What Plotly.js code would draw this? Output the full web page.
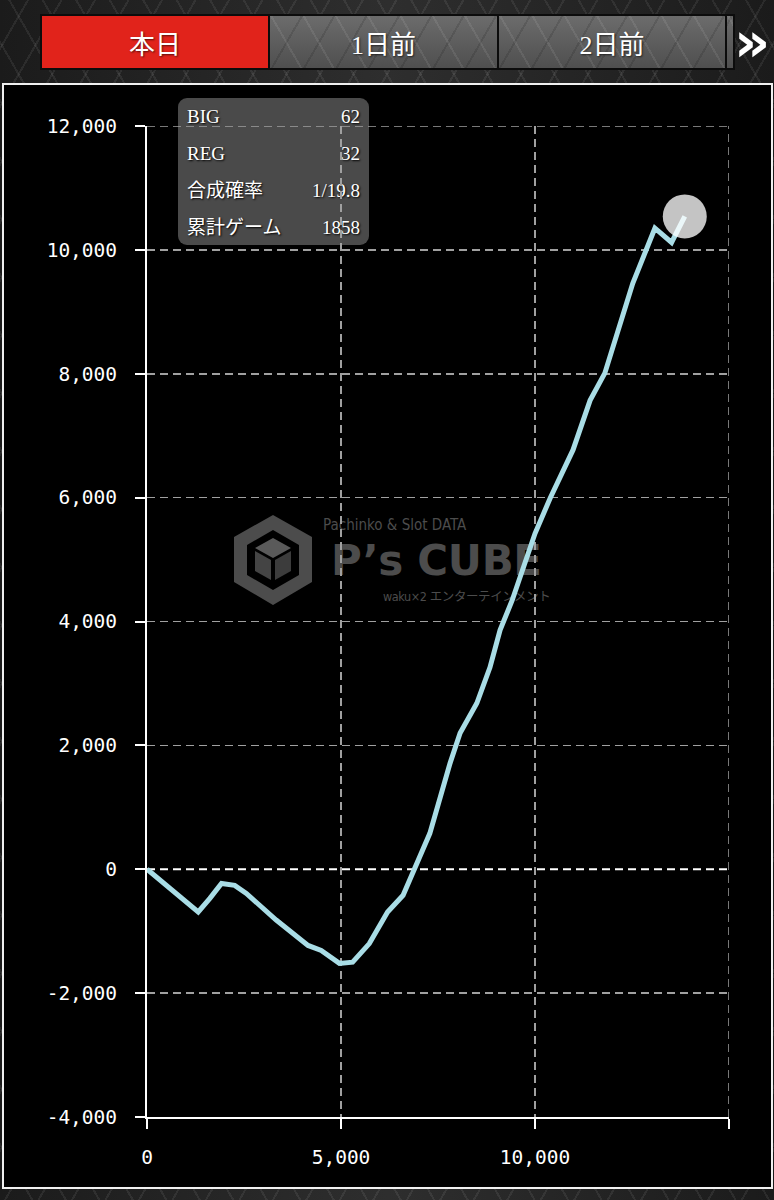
<!DOCTYPE html>
<html>
<head>
<meta charset="utf-8">
<script src="https://cdn.plot.ly/plotly-3.0.1.min.js"></script>
<style>
  html, body { margin:0; padding:0; width:774px; height:1200px; overflow:hidden; }
  body {
    position:relative;
    background-color:#232323;
    background-image:
      repeating-linear-gradient(60deg, transparent 0 27px, rgba(255,255,255,0.07) 27px 29px),
      repeating-linear-gradient(-60deg, transparent 0 27px, rgba(255,255,255,0.07) 27px 29px),
      linear-gradient(90deg, #1b1b1b, #2e2e2e 50%, #1b1b1b);
  }
  .tabs { position:absolute; left:40px; top:14px; width:695px; height:56px; background:#0c0c0c; }
  .tab {
    position:absolute; top:2px; height:52px; color:#fff;
    font-family:"Liberation Serif","Noto Sans CJK JP",serif; font-size:26px;
    display:flex; align-items:center; justify-content:center;
    text-shadow:1px 1px 2px rgba(0,0,0,0.6);
  }
  .red { left:2px; width:226px; background:#e1231b; }
  .gray {
    background-color:#5a5a5a;
    background-image:
      repeating-linear-gradient(60deg, transparent 0 26px, rgba(255,255,255,0.08) 26px 28px),
      repeating-linear-gradient(-60deg, transparent 0 26px, rgba(0,0,0,0.12) 26px 28px),
      linear-gradient(180deg, #6c6c6c, #4f4f4f);
  }
  .t1 { left:230px; width:227px; }
  .t2 { left:459px; width:226px; }
  .t3 { left:687px; width:6px; }
  .more { position:absolute; left:733px; top:14px; width:38px; height:56px; color:#fff;
    font-family:"DejaVu Sans"; font-weight:bold; font-size:56px; line-height:56px; text-align:center; }
  .panel { position:absolute; left:2px; top:83px; width:771px; height:1106px; box-sizing:border-box;
    border:2px solid #f0f0f0; background:#000; }
  .info { position:absolute; left:178px; top:98px; width:191px; height:147px; border-radius:9px;
    background:#4a4a4a; color:#fff; font-family:"Liberation Serif","Noto Sans CJK JP",serif; font-size:19px;
    text-shadow:1px 1px 2px #000; }
  .row { position:absolute; left:9px; right:9px; height:24px; line-height:24px; }
  .row span.v { position:absolute; right:0; }
  .wm { position:absolute; color:#4c4c4c; white-space:nowrap; line-height:1; }
  #chart { position:absolute; left:0; top:0; width:774px; height:1200px; }
</style>
</head>
<body>
<div class="tabs">
  <div class="tab red" id="tab0"></div>
  <div class="tab gray t1" id="tab1"></div>
  <div class="tab gray t2" id="tab2"></div>
  <div class="tab gray t3"></div>
</div>
<div class="more">»</div>
<div class="panel"></div>

<svg style="position:absolute;left:225px;top:508px" width="100" height="106" viewBox="0 0 100 106">
  <g fill="#4c4c4c">
    <path d="M48 7 L87 29 L87 74 L48 97 L9 74 L9 29 Z M48 22 L22 37 L22 67 L48 82 L74 67 L74 37 Z" fill-rule="evenodd"/>
    <path d="M48 30 L66 40 L48 50 L30 40 Z" fill="#5a5a5a"/>
    <path d="M30 43 L46 52 L46 72 L30 63 Z" fill="#444"/>
    <path d="M66 43 L50 52 L50 72 L66 63 Z" fill="#3c3c3c"/>
  </g>
</svg>
<div class="wm" style="left:323px;top:518px;font-family:'Liberation Sans Narrow','DejaVu Sans Condensed',sans-serif;font-size:15px;">Pachinko &amp; Slot DATA</div>
<div class="wm" style="left:331px;top:540px;font-family:'DejaVu Sans';font-weight:bold;font-size:42px;letter-spacing:-0.3px;">P’s CUBE</div>
<div class="wm" style="left:383px;top:591px;font-family:'DejaVu Sans Condensed','Noto Sans CJK JP',sans-serif;font-size:12.5px;letter-spacing:-0.4px;">waku×2 エンターテインメント</div>

<div class="info" id="info"></div>
<div id="chart"></div>

<script>
// ---- data ----
var tabLabels = ["本日", "1日前", "2日前"];
var infoLabels = ["BIG", "REG", "合成確率", "累計ゲーム"];
var infoValues = ["62", "32", "1/19.8", "1858"];

var games = [0, 1320, 1620, 1920, 2260, 2560, 3330, 4150, 4490, 4960, 5300, 5730, 6200, 6600,
             7290, 7810, 8070, 8500, 8840, 9100, 9410, 10000, 10390, 10980, 11420, 11800, 12520, 13090, 13520, 13860];
var diff  = [0, -690, -470, -230, -260, -390, -820, -1230, -1310, -1520, -1500, -1200, -690, -420,
             580, 1710, 2200, 2680, 3260, 3860, 4340, 5420, 5990, 6770, 7570, 8010, 9460, 10350, 10120, 10540];

var xTickVals = [0, 5000, 10000, 15000];
var xTickText = ["0", "5,000", "10,000", ""];
var yTickVals = [-4000, -2000, 0, 2000, 4000, 6000, 8000, 10000, 12000];
var yTickText = ["-4,000", "-2,000", "0", "2,000", "4,000", "6,000", "8,000", "10,000", "12,000"];

// ---- tabs & info box ----
document.getElementById("tab0").textContent = tabLabels[0];
document.getElementById("tab1").textContent = tabLabels[1];
document.getElementById("tab2").textContent = tabLabels[2];
var info = document.getElementById("info");
infoLabels.forEach(function (lab, i) {
  var r = document.createElement("div");
  r.className = "row";
  r.style.top = (7 + i * 37) + "px";
  r.innerHTML = "<span></span><span class='v'></span>";
  r.children[0].textContent = lab;
  r.children[1].textContent = infoValues[i];
  info.appendChild(r);
});

// ---- chart ----
var xMax = xTickVals[xTickVals.length - 1], yMax = yTickVals[yTickVals.length - 1];
var lastX = games[games.length - 1], lastY = diff[diff.length - 1];
var traces = [
  { x: games, y: diff, type: "scatter", mode: "lines",
    line: { color: "#a9dde6", width: 5 }, hoverinfo: "skip" },
  { x: [lastX], y: [lastY], type: "scatter", mode: "markers",
    marker: { size: 44, color: "rgba(255,255,255,0.77)", line: { width: 0 } }, hoverinfo: "skip" }
];

var gridStyle = { color: "#a0a0a0", width: 1.5, dash: "8px,5px" };
var tickFont = { family: "DejaVu Sans Mono", size: 19.5, color: "#ffffff" };
var layout = {
  width: 774, height: 1200,
  margin: { l: 147, r: 45, t: 126, b: 83 },
  paper_bgcolor: "rgba(0,0,0,0)",
  plot_bgcolor: "rgba(0,0,0,0)",
  showlegend: false,
  xaxis: {
    range: [0, xMax], tickvals: xTickVals, ticktext: xTickText,
    showgrid: true, gridcolor: gridStyle.color, gridwidth: gridStyle.width, griddash: gridStyle.dash,
    zeroline: false, showline: true, linecolor: "#ffffff", linewidth: 2,
    ticks: "outside", ticklen: 10, tickwidth: 2, tickcolor: "#ffffff",
    tickfont: tickFont, ticklabelstandoff: 12, fixedrange: true
  },
  yaxis: {
    range: [yTickVals[0], yMax], tickvals: yTickVals, ticktext: yTickText,
    showgrid: true, gridcolor: gridStyle.color, gridwidth: gridStyle.width, griddash: gridStyle.dash,
    zeroline: false, showline: true, linecolor: "#ffffff", linewidth: 2,
    ticks: "outside", ticklen: 10, tickwidth: 2, tickcolor: "#ffffff",
    tickfont: tickFont, ticklabelstandoff: 14, fixedrange: true
  },
  shapes: [
    { type: "line", xref: "x", yref: "y", x0: 0, x1: xMax, y0: 0, y1: 0, layer: "between",
      line: { color: "#ffffff", width: 2, dash: "8px,5px" } },
    { type: "line", xref: "x", yref: "y", x0: 0, x1: xMax, y0: yMax, y1: yMax, layer: "between",
      line: gridStyle },
    { type: "line", xref: "x", yref: "y", x0: xMax, x1: xMax, y0: yTickVals[0], y1: yMax, layer: "between",
      line: gridStyle }
  ]
};

Plotly.newPlot("chart", traces, layout, { displayModeBar: false, staticPlot: true });
</script>
</body>
</html>
